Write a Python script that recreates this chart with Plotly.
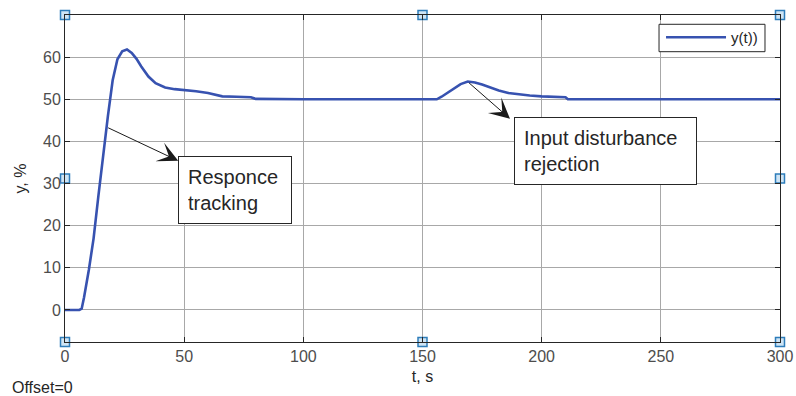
import plotly.graph_objects as go

# ---- data ----
t_s = [0, 6, 7, 8, 10, 12, 14, 16, 18, 20, 22, 24, 26, 28, 30, 32, 35, 38, 42, 46,
       50, 55, 60, 66, 72, 78, 80, 100, 150, 156, 158, 160, 163, 166, 169, 172,
       175, 178, 182, 186, 190, 195, 200, 205, 210, 211, 250, 300]
y_pct = [0, 0, 0.3, 3, 9.5, 17, 27, 37, 46, 54.5, 59.5, 61.4, 61.8, 61.0, 59.6, 57.8,
         55.4, 53.8, 52.8, 52.4, 52.2, 51.9, 51.5, 50.7, 50.6, 50.5, 50.1, 50, 50, 50,
         50.6, 51.4, 52.6, 53.6, 54.2, 54.0, 53.5, 52.9, 52.1, 51.5, 51.2, 50.9, 50.7,
         50.6, 50.5, 50, 50, 50]
x_ticks = [0, 50, 100, 150, 200, 250, 300]
y_ticks = [0, 10, 20, 30, 40, 50, 60]
X_RANGE = [0, 300]
Y_RANGE = [-7.6, 70]

FONT = "Liberation Sans, Arial, sans-serif"
LINE_BLUE = "#3752b0"
TXT = "#262626"
TICK_TXT = "#4d4d4d"

fig = go.Figure()
fig.add_trace(go.Scatter(x=t_s, y=y_pct, mode="lines", name="y(t))",
                         line=dict(color=LINE_BLUE, width=2.6), showlegend=False))

# selection handles (corners and edge midpoints)
ymid = (Y_RANGE[0] + Y_RANGE[1]) / 2
xmid = (X_RANGE[0] + X_RANGE[1]) / 2
hx = [X_RANGE[0], xmid, X_RANGE[1], X_RANGE[0], X_RANGE[1], X_RANGE[0], xmid, X_RANGE[1]]
hy = [Y_RANGE[1], Y_RANGE[1], Y_RANGE[1], ymid, ymid, Y_RANGE[0], Y_RANGE[0], Y_RANGE[0]]
fig.add_trace(go.Scatter(x=hx, y=hy, mode="markers", showlegend=False, hoverinfo="skip",
                         cliponaxis=False,
                         marker=dict(symbol="square", size=9, color="#cfe5f5",
                                     line=dict(color="#2e7dba", width=1.5))))

axis_common = dict(showline=True, linecolor="#262626", linewidth=1, mirror="ticks",
                   ticks="inside", ticklen=5, tickcolor="#262626", automargin=False,
                   showgrid=True, gridcolor="#a8a8a8", gridwidth=1, zeroline=False,
                   tickfont=dict(family=FONT, size=16, color=TICK_TXT))

fig.update_xaxes(range=X_RANGE, tickvals=x_ticks, **axis_common,
                 title=dict(text="t, s", font=dict(family=FONT, size=16, color=TXT), standoff=6))
fig.update_yaxes(range=Y_RANGE, tickvals=y_ticks, **axis_common,
                 title=dict(text="y, %", font=dict(family=FONT, size=16, color=TXT), standoff=12))

# arrows
fig.add_annotation(x=47.5, y=35.4, ax=17.5, ay=43.4, xref="x", yref="y", axref="x", ayref="y",
                   text="", showarrow=True, arrowhead=3, arrowsize=3.4, arrowwidth=1,
                   arrowcolor="#1a1a1a", standoff=0, startstandoff=0)
fig.add_annotation(x=186.7, y=45.4, ax=168.9, ay=54.2, xref="x", yref="y", axref="x", ayref="y",
                   text="", showarrow=True, arrowhead=3, arrowsize=3.4, arrowwidth=1,
                   arrowcolor="#1a1a1a", standoff=0, startstandoff=0)

# text boxes
fig.add_annotation(x=47.4, y=36.5, xref="x", yref="y", xanchor="left", yanchor="top",
                   text="Responce<br>tracking", showarrow=False, align="left",
                   font=dict(family=FONT, size=20, color=TXT), bgcolor="white",
                   bordercolor="#262626", borderwidth=1, borderpad=9, width=94)
fig.add_annotation(x=188.5, y=45.7, xref="x", yref="y", xanchor="left", yanchor="top",
                   text="Input disturbance<br>rejection", showarrow=False, align="left",
                   font=dict(family=FONT, size=20, color=TXT), bgcolor="white",
                   bordercolor="#262626", borderwidth=1, borderpad=9, width=163)

# legend (drawn manually to match the reference's long sample line)
fig.add_shape(type="rect", xref="paper", yref="paper", x0=0.8308, x1=0.979, y0=0.8878, y1=0.9716,
              line=dict(color="#262626", width=1), fillcolor="white", layer="above")
fig.add_shape(type="line", xref="paper", yref="paper", x0=0.8406, x1=0.9245, y0=0.9318, y1=0.9318,
              line=dict(color=LINE_BLUE, width=2.6), layer="above")
fig.add_annotation(x=0.928, y=0.9318, xref="paper", yref="paper", xanchor="left", yanchor="middle",
                   text="y(t))", showarrow=False, font=dict(family=FONT, size=15, color=TXT))

# offset label
fig.add_annotation(x=-0.077, y=-0.14, xref="paper", yref="paper", xanchor="left", yanchor="middle",
                   text="Offset=0", showarrow=False, font=dict(family=FONT, size=16, color=TXT))

fig.update_layout(width=796, height=396, margin=dict(l=65, r=16, t=15, b=54),
                  plot_bgcolor="white", paper_bgcolor="white", showlegend=False)

fig.write_html("out.html", config={"displayModeBar": False},
               post_script="document.body.style.margin='0';document.body.style.overflow='hidden';")
